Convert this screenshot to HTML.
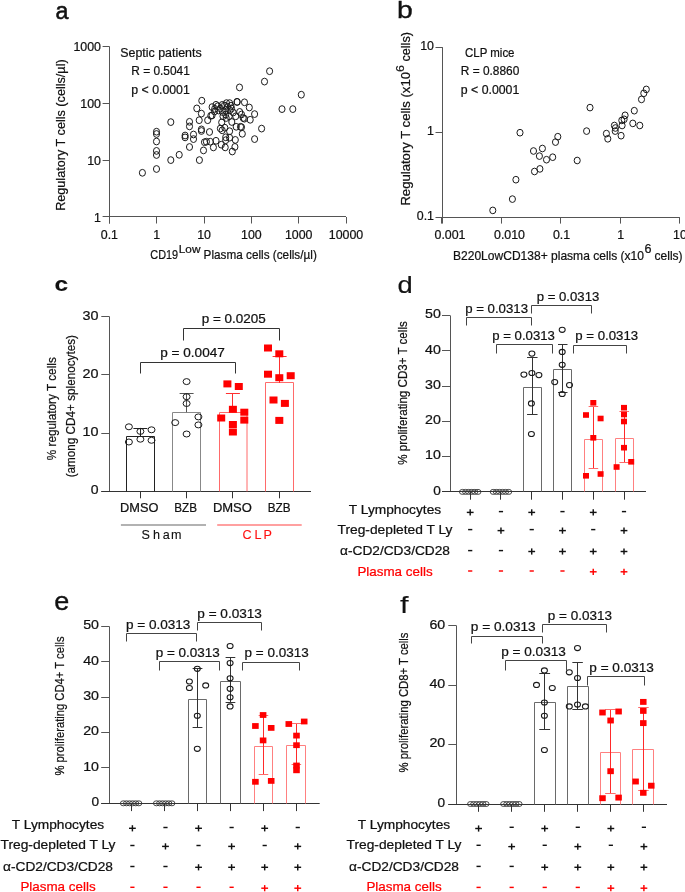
<!DOCTYPE html>
<html><head><meta charset="utf-8"><style>
html,body{margin:0;padding:0;background:#fff;}
svg{display:block;will-change:transform;}
text{font-family:"Liberation Sans", sans-serif;}
</style></head><body>
<svg width="685" height="892" viewBox="0 0 685 892">
<rect width="685" height="892" fill="#fff"/>
<text x="55.40" y="18.70" font-size="23" textLength="12.90" lengthAdjust="spacingAndGlyphs" fill="#111" stroke="#111" stroke-width="0.55">a</text>
<line x1="109.50" y1="46.30" x2="109.50" y2="223.50" stroke="#555" stroke-width="1"/>
<line x1="102.60" y1="46.50" x2="109.20" y2="46.50" stroke="#555" stroke-width="1"/>
<text x="101.00" y="50.80" font-size="12.4" text-anchor="end" fill="#111" stroke="#111" stroke-width="0.22">1000</text>
<line x1="102.60" y1="103.50" x2="109.20" y2="103.50" stroke="#555" stroke-width="1"/>
<text x="101.00" y="107.70" font-size="12.4" text-anchor="end" fill="#111" stroke="#111" stroke-width="0.22">100</text>
<line x1="102.60" y1="160.50" x2="109.20" y2="160.50" stroke="#555" stroke-width="1"/>
<text x="101.00" y="164.60" font-size="12.4" text-anchor="end" fill="#111" stroke="#111" stroke-width="0.22">10</text>
<line x1="102.60" y1="216.50" x2="109.20" y2="216.50" stroke="#555" stroke-width="1"/>
<text x="101.00" y="221.50" font-size="12.4" text-anchor="end" fill="#111" stroke="#111" stroke-width="0.22">1</text>
<line x1="109.20" y1="216.50" x2="346.00" y2="216.50" stroke="#555" stroke-width="1"/>
<line x1="109.50" y1="217.00" x2="109.50" y2="223.50" stroke="#555" stroke-width="1"/>
<text x="109.40" y="238.90" font-size="12.4" text-anchor="middle" fill="#111" stroke="#111" stroke-width="0.22">0.1</text>
<line x1="156.50" y1="217.00" x2="156.50" y2="223.50" stroke="#555" stroke-width="1"/>
<text x="156.72" y="238.90" font-size="12.4" text-anchor="middle" fill="#111" stroke="#111" stroke-width="0.22">1</text>
<line x1="204.50" y1="217.00" x2="204.50" y2="223.50" stroke="#555" stroke-width="1"/>
<text x="204.04" y="238.90" font-size="12.4" text-anchor="middle" fill="#111" stroke="#111" stroke-width="0.22">10</text>
<line x1="251.50" y1="217.00" x2="251.50" y2="223.50" stroke="#555" stroke-width="1"/>
<text x="251.36" y="238.90" font-size="12.4" text-anchor="middle" fill="#111" stroke="#111" stroke-width="0.22">100</text>
<line x1="298.50" y1="217.00" x2="298.50" y2="223.50" stroke="#555" stroke-width="1"/>
<text x="298.68" y="238.90" font-size="12.4" text-anchor="middle" fill="#111" stroke="#111" stroke-width="0.22">1000</text>
<line x1="346.50" y1="217.00" x2="346.50" y2="223.50" stroke="#555" stroke-width="1"/>
<text x="346.00" y="238.90" font-size="12.4" text-anchor="middle" fill="#111" stroke="#111" stroke-width="0.22">10000</text>
<text x="120.20" y="57.00" font-size="12.2" textLength="81.50" lengthAdjust="spacingAndGlyphs" fill="#111" stroke="#111" stroke-width="0.22">Septic patients</text>
<text x="131.30" y="75.40" font-size="12.2" textLength="58.50" lengthAdjust="spacingAndGlyphs" fill="#111" stroke="#111" stroke-width="0.22">R = 0.5041</text>
<text x="131.30" y="93.80" font-size="12.2" textLength="58.50" lengthAdjust="spacingAndGlyphs" fill="#111" stroke="#111" stroke-width="0.22">p &lt; 0.0001</text>
<text x="65.30" y="135.10" font-size="13" text-anchor="middle" textLength="151.50" lengthAdjust="spacingAndGlyphs" transform="rotate(-90 65.30 135.10)" fill="#111" stroke="#111" stroke-width="0.22">Regulatory T cells (cells/µl)</text>
<text x="150.30" y="259.20" font-size="12.8" textLength="27.80" lengthAdjust="spacingAndGlyphs" fill="#111" stroke="#111" stroke-width="0.22">CD19</text>
<text x="178.80" y="252.60" font-size="10.6" textLength="21.60" lengthAdjust="spacingAndGlyphs" fill="#111" stroke="#111" stroke-width="0.22">Low</text>
<text x="203.60" y="259.20" font-size="12.8" textLength="113.20" lengthAdjust="spacingAndGlyphs" fill="#111" stroke="#111" stroke-width="0.22">Plasma cells (cells/µl)</text>
<ellipse cx="142.40" cy="172.80" rx="3.05" ry="3.4" fill="none" stroke="#1a1a1a" stroke-width="1.0"/>
<ellipse cx="156.50" cy="169.00" rx="3.05" ry="3.4" fill="none" stroke="#1a1a1a" stroke-width="1.0"/>
<ellipse cx="170.80" cy="160.10" rx="3.05" ry="3.4" fill="none" stroke="#1a1a1a" stroke-width="1.0"/>
<ellipse cx="179.20" cy="154.80" rx="3.05" ry="3.4" fill="none" stroke="#1a1a1a" stroke-width="1.0"/>
<ellipse cx="156.50" cy="155.00" rx="3.05" ry="3.4" fill="none" stroke="#1a1a1a" stroke-width="1.0"/>
<ellipse cx="156.50" cy="150.90" rx="3.05" ry="3.4" fill="none" stroke="#1a1a1a" stroke-width="1.0"/>
<ellipse cx="156.50" cy="141.50" rx="3.05" ry="3.4" fill="none" stroke="#1a1a1a" stroke-width="1.0"/>
<ellipse cx="156.50" cy="134.00" rx="3.05" ry="3.4" fill="none" stroke="#1a1a1a" stroke-width="1.0"/>
<ellipse cx="156.50" cy="131.70" rx="3.05" ry="3.4" fill="none" stroke="#1a1a1a" stroke-width="1.0"/>
<ellipse cx="170.80" cy="122.10" rx="3.05" ry="3.4" fill="none" stroke="#1a1a1a" stroke-width="1.0"/>
<ellipse cx="185.10" cy="135.50" rx="3.05" ry="3.4" fill="none" stroke="#1a1a1a" stroke-width="1.0"/>
<ellipse cx="185.10" cy="137.40" rx="3.05" ry="3.4" fill="none" stroke="#1a1a1a" stroke-width="1.0"/>
<ellipse cx="189.50" cy="121.80" rx="3.05" ry="3.4" fill="none" stroke="#1a1a1a" stroke-width="1.0"/>
<ellipse cx="189.50" cy="126.40" rx="3.05" ry="3.4" fill="none" stroke="#1a1a1a" stroke-width="1.0"/>
<ellipse cx="189.50" cy="147.00" rx="3.05" ry="3.4" fill="none" stroke="#1a1a1a" stroke-width="1.0"/>
<ellipse cx="193.50" cy="134.50" rx="3.05" ry="3.4" fill="none" stroke="#1a1a1a" stroke-width="1.0"/>
<ellipse cx="193.50" cy="139.10" rx="3.05" ry="3.4" fill="none" stroke="#1a1a1a" stroke-width="1.0"/>
<ellipse cx="199.40" cy="160.10" rx="3.05" ry="3.4" fill="none" stroke="#1a1a1a" stroke-width="1.0"/>
<ellipse cx="199.20" cy="120.20" rx="3.05" ry="3.4" fill="none" stroke="#1a1a1a" stroke-width="1.0"/>
<ellipse cx="201.40" cy="129.40" rx="3.05" ry="3.4" fill="none" stroke="#1a1a1a" stroke-width="1.0"/>
<ellipse cx="201.40" cy="131.00" rx="3.05" ry="3.4" fill="none" stroke="#1a1a1a" stroke-width="1.0"/>
<ellipse cx="201.40" cy="113.60" rx="3.05" ry="3.4" fill="none" stroke="#1a1a1a" stroke-width="1.0"/>
<ellipse cx="203.50" cy="150.40" rx="3.05" ry="3.4" fill="none" stroke="#1a1a1a" stroke-width="1.0"/>
<ellipse cx="204.50" cy="142.20" rx="3.05" ry="3.4" fill="none" stroke="#1a1a1a" stroke-width="1.0"/>
<ellipse cx="201.80" cy="100.70" rx="3.05" ry="3.4" fill="none" stroke="#1a1a1a" stroke-width="1.0"/>
<ellipse cx="196.80" cy="108.40" rx="3.05" ry="3.4" fill="none" stroke="#1a1a1a" stroke-width="1.0"/>
<ellipse cx="207.70" cy="120.20" rx="3.05" ry="3.4" fill="none" stroke="#1a1a1a" stroke-width="1.0"/>
<ellipse cx="209.50" cy="132.00" rx="3.05" ry="3.4" fill="none" stroke="#1a1a1a" stroke-width="1.0"/>
<ellipse cx="212.10" cy="107.10" rx="3.05" ry="3.4" fill="none" stroke="#1a1a1a" stroke-width="1.0"/>
<ellipse cx="210.80" cy="115.80" rx="3.05" ry="3.4" fill="none" stroke="#1a1a1a" stroke-width="1.0"/>
<ellipse cx="212.10" cy="115.40" rx="3.05" ry="3.4" fill="none" stroke="#1a1a1a" stroke-width="1.0"/>
<ellipse cx="214.70" cy="108.80" rx="3.05" ry="3.4" fill="none" stroke="#1a1a1a" stroke-width="1.0"/>
<ellipse cx="217.80" cy="106.20" rx="3.05" ry="3.4" fill="none" stroke="#1a1a1a" stroke-width="1.0"/>
<ellipse cx="220.40" cy="108.40" rx="3.05" ry="3.4" fill="none" stroke="#1a1a1a" stroke-width="1.0"/>
<ellipse cx="222.20" cy="104.90" rx="3.05" ry="3.4" fill="none" stroke="#1a1a1a" stroke-width="1.0"/>
<ellipse cx="223.00" cy="116.30" rx="3.05" ry="3.4" fill="none" stroke="#1a1a1a" stroke-width="1.0"/>
<ellipse cx="226.50" cy="103.10" rx="3.05" ry="3.4" fill="none" stroke="#1a1a1a" stroke-width="1.0"/>
<ellipse cx="229.60" cy="103.10" rx="3.05" ry="3.4" fill="none" stroke="#1a1a1a" stroke-width="1.0"/>
<ellipse cx="230.90" cy="105.80" rx="3.05" ry="3.4" fill="none" stroke="#1a1a1a" stroke-width="1.0"/>
<ellipse cx="225.70" cy="110.10" rx="3.05" ry="3.4" fill="none" stroke="#1a1a1a" stroke-width="1.0"/>
<ellipse cx="230.00" cy="110.10" rx="3.05" ry="3.4" fill="none" stroke="#1a1a1a" stroke-width="1.0"/>
<ellipse cx="225.70" cy="114.50" rx="3.05" ry="3.4" fill="none" stroke="#1a1a1a" stroke-width="1.0"/>
<ellipse cx="221.70" cy="122.40" rx="3.05" ry="3.4" fill="none" stroke="#1a1a1a" stroke-width="1.0"/>
<ellipse cx="220.40" cy="128.50" rx="3.05" ry="3.4" fill="none" stroke="#1a1a1a" stroke-width="1.0"/>
<ellipse cx="222.20" cy="130.30" rx="3.05" ry="3.4" fill="none" stroke="#1a1a1a" stroke-width="1.0"/>
<ellipse cx="224.80" cy="127.70" rx="3.05" ry="3.4" fill="none" stroke="#1a1a1a" stroke-width="1.0"/>
<ellipse cx="229.60" cy="131.20" rx="3.05" ry="3.4" fill="none" stroke="#1a1a1a" stroke-width="1.0"/>
<ellipse cx="231.80" cy="122.00" rx="3.05" ry="3.4" fill="none" stroke="#1a1a1a" stroke-width="1.0"/>
<ellipse cx="235.70" cy="116.30" rx="3.05" ry="3.4" fill="none" stroke="#1a1a1a" stroke-width="1.0"/>
<ellipse cx="237.00" cy="101.80" rx="3.05" ry="3.4" fill="none" stroke="#1a1a1a" stroke-width="1.0"/>
<ellipse cx="244.50" cy="102.30" rx="3.05" ry="3.4" fill="none" stroke="#1a1a1a" stroke-width="1.0"/>
<ellipse cx="249.30" cy="107.50" rx="3.05" ry="3.4" fill="none" stroke="#1a1a1a" stroke-width="1.0"/>
<ellipse cx="239.70" cy="111.90" rx="3.05" ry="3.4" fill="none" stroke="#1a1a1a" stroke-width="1.0"/>
<ellipse cx="243.20" cy="118.00" rx="3.05" ry="3.4" fill="none" stroke="#1a1a1a" stroke-width="1.0"/>
<ellipse cx="250.20" cy="119.80" rx="3.05" ry="3.4" fill="none" stroke="#1a1a1a" stroke-width="1.0"/>
<ellipse cx="236.20" cy="126.80" rx="3.05" ry="3.4" fill="none" stroke="#1a1a1a" stroke-width="1.0"/>
<ellipse cx="240.50" cy="126.80" rx="3.05" ry="3.4" fill="none" stroke="#1a1a1a" stroke-width="1.0"/>
<ellipse cx="242.30" cy="133.80" rx="3.05" ry="3.4" fill="none" stroke="#1a1a1a" stroke-width="1.0"/>
<ellipse cx="225.70" cy="137.30" rx="3.05" ry="3.4" fill="none" stroke="#1a1a1a" stroke-width="1.0"/>
<ellipse cx="229.60" cy="137.70" rx="3.05" ry="3.4" fill="none" stroke="#1a1a1a" stroke-width="1.0"/>
<ellipse cx="235.30" cy="139.90" rx="3.05" ry="3.4" fill="none" stroke="#1a1a1a" stroke-width="1.0"/>
<ellipse cx="206.40" cy="141.70" rx="3.05" ry="3.4" fill="none" stroke="#1a1a1a" stroke-width="1.0"/>
<ellipse cx="210.30" cy="141.70" rx="3.05" ry="3.4" fill="none" stroke="#1a1a1a" stroke-width="1.0"/>
<ellipse cx="216.00" cy="140.80" rx="3.05" ry="3.4" fill="none" stroke="#1a1a1a" stroke-width="1.0"/>
<ellipse cx="221.30" cy="144.70" rx="3.05" ry="3.4" fill="none" stroke="#1a1a1a" stroke-width="1.0"/>
<ellipse cx="234.90" cy="146.90" rx="3.05" ry="3.4" fill="none" stroke="#1a1a1a" stroke-width="1.0"/>
<ellipse cx="225.20" cy="147.40" rx="3.05" ry="3.4" fill="none" stroke="#1a1a1a" stroke-width="1.0"/>
<ellipse cx="254.60" cy="139.10" rx="3.05" ry="3.4" fill="none" stroke="#1a1a1a" stroke-width="1.0"/>
<ellipse cx="254.60" cy="114.10" rx="3.05" ry="3.4" fill="none" stroke="#1a1a1a" stroke-width="1.0"/>
<ellipse cx="239.50" cy="87.40" rx="3.05" ry="3.4" fill="none" stroke="#1a1a1a" stroke-width="1.0"/>
<ellipse cx="213.40" cy="147.40" rx="3.05" ry="3.4" fill="none" stroke="#1a1a1a" stroke-width="1.0"/>
<ellipse cx="225.70" cy="140.20" rx="3.05" ry="3.4" fill="none" stroke="#1a1a1a" stroke-width="1.0"/>
<ellipse cx="232.30" cy="151.50" rx="3.05" ry="3.4" fill="none" stroke="#1a1a1a" stroke-width="1.0"/>
<ellipse cx="261.60" cy="128.60" rx="3.05" ry="3.4" fill="none" stroke="#1a1a1a" stroke-width="1.0"/>
<ellipse cx="269.60" cy="71.20" rx="3.05" ry="3.4" fill="none" stroke="#1a1a1a" stroke-width="1.0"/>
<ellipse cx="264.50" cy="81.60" rx="3.05" ry="3.4" fill="none" stroke="#1a1a1a" stroke-width="1.0"/>
<ellipse cx="301.30" cy="94.70" rx="3.05" ry="3.4" fill="none" stroke="#1a1a1a" stroke-width="1.0"/>
<ellipse cx="282.00" cy="109.10" rx="3.05" ry="3.4" fill="none" stroke="#1a1a1a" stroke-width="1.0"/>
<ellipse cx="292.80" cy="109.10" rx="3.05" ry="3.4" fill="none" stroke="#1a1a1a" stroke-width="1.0"/>
<ellipse cx="244.40" cy="118.70" rx="3.05" ry="3.4" fill="none" stroke="#1a1a1a" stroke-width="1.0"/>
<ellipse cx="241.50" cy="127.20" rx="3.05" ry="3.4" fill="none" stroke="#1a1a1a" stroke-width="1.0"/>
<ellipse cx="237.20" cy="102.00" rx="3.05" ry="3.4" fill="none" stroke="#1a1a1a" stroke-width="1.0"/>
<ellipse cx="214.50" cy="111.50" rx="3.05" ry="3.4" fill="none" stroke="#1a1a1a" stroke-width="1.0"/>
<ellipse cx="218.50" cy="110.50" rx="3.05" ry="3.4" fill="none" stroke="#1a1a1a" stroke-width="1.0"/>
<ellipse cx="222.50" cy="112.00" rx="3.05" ry="3.4" fill="none" stroke="#1a1a1a" stroke-width="1.0"/>
<ellipse cx="227.50" cy="106.80" rx="3.05" ry="3.4" fill="none" stroke="#1a1a1a" stroke-width="1.0"/>
<ellipse cx="231.50" cy="108.50" rx="3.05" ry="3.4" fill="none" stroke="#1a1a1a" stroke-width="1.0"/>
<ellipse cx="233.20" cy="112.50" rx="3.05" ry="3.4" fill="none" stroke="#1a1a1a" stroke-width="1.0"/>
<ellipse cx="226.20" cy="118.00" rx="3.05" ry="3.4" fill="none" stroke="#1a1a1a" stroke-width="1.0"/>
<ellipse cx="229.20" cy="116.20" rx="3.05" ry="3.4" fill="none" stroke="#1a1a1a" stroke-width="1.0"/>
<ellipse cx="216.00" cy="104.80" rx="3.05" ry="3.4" fill="none" stroke="#1a1a1a" stroke-width="1.0"/>
<ellipse cx="241.50" cy="114.50" rx="3.05" ry="3.4" fill="none" stroke="#1a1a1a" stroke-width="1.0"/>
<ellipse cx="224.50" cy="105.50" rx="3.05" ry="3.4" fill="none" stroke="#1a1a1a" stroke-width="1.0"/>
<text x="396.90" y="17.80" font-size="24.5" textLength="15.80" lengthAdjust="spacingAndGlyphs" fill="#111" stroke="#111" stroke-width="0.35">b</text>
<line x1="442.50" y1="47.10" x2="442.50" y2="223.60" stroke="#555" stroke-width="1"/>
<line x1="435.50" y1="47.50" x2="442.00" y2="47.50" stroke="#555" stroke-width="1"/>
<text x="434.00" y="49.90" font-size="12.4" text-anchor="end" fill="#111" stroke="#111" stroke-width="0.22">10</text>
<line x1="435.50" y1="132.50" x2="442.00" y2="132.50" stroke="#555" stroke-width="1"/>
<text x="434.00" y="134.90" font-size="12.4" text-anchor="end" fill="#111" stroke="#111" stroke-width="0.22">1</text>
<line x1="435.50" y1="217.50" x2="442.00" y2="217.50" stroke="#555" stroke-width="1"/>
<text x="434.00" y="219.90" font-size="12.4" text-anchor="end" fill="#111" stroke="#111" stroke-width="0.22">0.1</text>
<line x1="442.00" y1="217.50" x2="679.40" y2="217.50" stroke="#555" stroke-width="1"/>
<line x1="441.50" y1="217.10" x2="441.50" y2="223.60" stroke="#555" stroke-width="1"/>
<text x="450.00" y="239.00" font-size="12.4" text-anchor="middle" fill="#111" stroke="#111" stroke-width="0.22">0.001</text>
<line x1="501.50" y1="217.10" x2="501.50" y2="223.60" stroke="#555" stroke-width="1"/>
<text x="509.50" y="239.00" font-size="12.4" text-anchor="middle" fill="#111" stroke="#111" stroke-width="0.22">0.010</text>
<line x1="560.50" y1="217.10" x2="560.50" y2="223.60" stroke="#555" stroke-width="1"/>
<text x="561.60" y="239.00" font-size="12.4" text-anchor="middle" fill="#111" stroke="#111" stroke-width="0.22">0.1</text>
<line x1="620.50" y1="217.10" x2="620.50" y2="223.60" stroke="#555" stroke-width="1"/>
<text x="620.60" y="239.00" font-size="12.4" text-anchor="middle" fill="#111" stroke="#111" stroke-width="0.22">1</text>
<line x1="679.50" y1="217.10" x2="679.50" y2="223.60" stroke="#555" stroke-width="1"/>
<text x="680.00" y="239.00" font-size="12.4" text-anchor="middle" fill="#111" stroke="#111" stroke-width="0.22">10</text>
<text x="465.00" y="56.80" font-size="12.2" textLength="49.50" lengthAdjust="spacingAndGlyphs" fill="#111" stroke="#111" stroke-width="0.22">CLP mice</text>
<text x="460.80" y="75.20" font-size="12.2" textLength="58.50" lengthAdjust="spacingAndGlyphs" fill="#111" stroke="#111" stroke-width="0.22">R = 0.8860</text>
<text x="460.80" y="93.50" font-size="12.2" textLength="58.50" lengthAdjust="spacingAndGlyphs" fill="#111" stroke="#111" stroke-width="0.22">p &lt; 0.0001</text>
<g transform="translate(409.8,205.6) rotate(-90)">
<text x="0.00" y="0.00" font-size="12.2" textLength="133.60" lengthAdjust="spacingAndGlyphs" fill="#111" stroke="#111" stroke-width="0.22">Regulatory T cells (x10</text>
<text x="133.60" y="-5.40" font-size="11.6" textLength="6.90" lengthAdjust="spacingAndGlyphs" fill="#111" stroke="#111" stroke-width="0.22">6</text>
<text x="144.00" y="0.00" font-size="12.2" textLength="29.60" lengthAdjust="spacingAndGlyphs" fill="#111" stroke="#111" stroke-width="0.22">cells)</text>
</g>
<text x="453.00" y="259.90" font-size="12.6" textLength="191.00" lengthAdjust="spacingAndGlyphs" fill="#111" stroke="#111" stroke-width="0.22">B220LowCD138+ plasma cells (x10</text>
<text x="644.60" y="253.40" font-size="12.2" textLength="7.00" lengthAdjust="spacingAndGlyphs" fill="#111" stroke="#111" stroke-width="0.22">6</text>
<text x="654.60" y="259.90" font-size="12.6" textLength="28.00" lengthAdjust="spacingAndGlyphs" fill="#111" stroke="#111" stroke-width="0.22">cells)</text>
<ellipse cx="492.80" cy="210.40" rx="3.05" ry="3.35" fill="none" stroke="#1a1a1a" stroke-width="1.0"/>
<ellipse cx="512.40" cy="199.10" rx="3.05" ry="3.35" fill="none" stroke="#1a1a1a" stroke-width="1.0"/>
<ellipse cx="515.90" cy="179.70" rx="3.05" ry="3.35" fill="none" stroke="#1a1a1a" stroke-width="1.0"/>
<ellipse cx="520.00" cy="132.70" rx="3.05" ry="3.35" fill="none" stroke="#1a1a1a" stroke-width="1.0"/>
<ellipse cx="533.50" cy="151.00" rx="3.05" ry="3.35" fill="none" stroke="#1a1a1a" stroke-width="1.0"/>
<ellipse cx="542.40" cy="148.50" rx="3.05" ry="3.35" fill="none" stroke="#1a1a1a" stroke-width="1.0"/>
<ellipse cx="539.40" cy="156.10" rx="3.05" ry="3.35" fill="none" stroke="#1a1a1a" stroke-width="1.0"/>
<ellipse cx="546.50" cy="159.70" rx="3.05" ry="3.35" fill="none" stroke="#1a1a1a" stroke-width="1.0"/>
<ellipse cx="552.70" cy="157.20" rx="3.05" ry="3.35" fill="none" stroke="#1a1a1a" stroke-width="1.0"/>
<ellipse cx="534.50" cy="171.50" rx="3.05" ry="3.35" fill="none" stroke="#1a1a1a" stroke-width="1.0"/>
<ellipse cx="539.90" cy="168.90" rx="3.05" ry="3.35" fill="none" stroke="#1a1a1a" stroke-width="1.0"/>
<ellipse cx="555.50" cy="142.10" rx="3.05" ry="3.35" fill="none" stroke="#1a1a1a" stroke-width="1.0"/>
<ellipse cx="557.80" cy="136.70" rx="3.05" ry="3.35" fill="none" stroke="#1a1a1a" stroke-width="1.0"/>
<ellipse cx="577.20" cy="160.50" rx="3.05" ry="3.35" fill="none" stroke="#1a1a1a" stroke-width="1.0"/>
<ellipse cx="586.60" cy="131.10" rx="3.05" ry="3.35" fill="none" stroke="#1a1a1a" stroke-width="1.0"/>
<ellipse cx="590.00" cy="107.60" rx="3.05" ry="3.35" fill="none" stroke="#1a1a1a" stroke-width="1.0"/>
<ellipse cx="646.30" cy="89.40" rx="3.05" ry="3.35" fill="none" stroke="#1a1a1a" stroke-width="1.0"/>
<ellipse cx="643.80" cy="93.30" rx="3.05" ry="3.35" fill="none" stroke="#1a1a1a" stroke-width="1.0"/>
<ellipse cx="641.50" cy="99.40" rx="3.05" ry="3.35" fill="none" stroke="#1a1a1a" stroke-width="1.0"/>
<ellipse cx="634.30" cy="110.70" rx="3.05" ry="3.35" fill="none" stroke="#1a1a1a" stroke-width="1.0"/>
<ellipse cx="625.10" cy="115.30" rx="3.05" ry="3.35" fill="none" stroke="#1a1a1a" stroke-width="1.0"/>
<ellipse cx="624.10" cy="119.30" rx="3.05" ry="3.35" fill="none" stroke="#1a1a1a" stroke-width="1.0"/>
<ellipse cx="621.80" cy="120.40" rx="3.05" ry="3.35" fill="none" stroke="#1a1a1a" stroke-width="1.0"/>
<ellipse cx="622.10" cy="125.50" rx="3.05" ry="3.35" fill="none" stroke="#1a1a1a" stroke-width="1.0"/>
<ellipse cx="632.80" cy="123.40" rx="3.05" ry="3.35" fill="none" stroke="#1a1a1a" stroke-width="1.0"/>
<ellipse cx="639.80" cy="125.50" rx="3.05" ry="3.35" fill="none" stroke="#1a1a1a" stroke-width="1.0"/>
<ellipse cx="614.40" cy="125.50" rx="3.05" ry="3.35" fill="none" stroke="#1a1a1a" stroke-width="1.0"/>
<ellipse cx="615.40" cy="128.00" rx="3.05" ry="3.35" fill="none" stroke="#1a1a1a" stroke-width="1.0"/>
<ellipse cx="615.20" cy="131.10" rx="3.05" ry="3.35" fill="none" stroke="#1a1a1a" stroke-width="1.0"/>
<ellipse cx="621.10" cy="135.70" rx="3.05" ry="3.35" fill="none" stroke="#1a1a1a" stroke-width="1.0"/>
<ellipse cx="606.40" cy="133.60" rx="3.05" ry="3.35" fill="none" stroke="#1a1a1a" stroke-width="1.0"/>
<ellipse cx="607.80" cy="138.80" rx="3.05" ry="3.35" fill="none" stroke="#1a1a1a" stroke-width="1.0"/>
<text x="54.60" y="290.80" font-size="21" textLength="13.60" lengthAdjust="spacingAndGlyphs" font-weight="bold" fill="#111" stroke="#111" stroke-width="0.1">c</text>
<line x1="109.50" y1="316.59" x2="109.50" y2="491.40" stroke="#555" stroke-width="1"/>
<line x1="101.30" y1="491.50" x2="109.50" y2="491.50" stroke="#555" stroke-width="1"/>
<text x="98.60" y="494.40" font-size="12.4" text-anchor="end" textLength="7.80" lengthAdjust="spacingAndGlyphs" fill="#111" stroke="#111" stroke-width="0.22">0</text>
<line x1="101.30" y1="433.50" x2="109.50" y2="433.50" stroke="#555" stroke-width="1"/>
<text x="98.60" y="436.13" font-size="12.4" text-anchor="end" textLength="16.00" lengthAdjust="spacingAndGlyphs" fill="#111" stroke="#111" stroke-width="0.22">10</text>
<line x1="101.30" y1="374.50" x2="109.50" y2="374.50" stroke="#555" stroke-width="1"/>
<text x="98.60" y="377.86" font-size="12.4" text-anchor="end" textLength="16.00" lengthAdjust="spacingAndGlyphs" fill="#111" stroke="#111" stroke-width="0.22">20</text>
<line x1="101.30" y1="316.50" x2="109.50" y2="316.50" stroke="#555" stroke-width="1"/>
<text x="98.60" y="319.59" font-size="12.4" text-anchor="end" textLength="16.00" lengthAdjust="spacingAndGlyphs" fill="#111" stroke="#111" stroke-width="0.22">30</text>
<line x1="101.30" y1="491.50" x2="311.00" y2="491.50" stroke="#333" stroke-width="1"/>
<line x1="140.50" y1="491.40" x2="140.50" y2="498.30" stroke="#333" stroke-width="1"/>
<line x1="186.50" y1="491.40" x2="186.50" y2="498.30" stroke="#333" stroke-width="1"/>
<line x1="232.50" y1="491.40" x2="232.50" y2="498.30" stroke="#333" stroke-width="1"/>
<line x1="279.50" y1="491.40" x2="279.50" y2="498.30" stroke="#333" stroke-width="1"/>
<text x="139.20" y="511.90" font-size="12.4" text-anchor="middle" textLength="38.40" lengthAdjust="spacingAndGlyphs" fill="#111" stroke="#111" stroke-width="0.22">DMSO</text>
<text x="185.60" y="511.90" font-size="12.4" text-anchor="middle" textLength="22.80" lengthAdjust="spacingAndGlyphs" fill="#111" stroke="#111" stroke-width="0.22">BZB</text>
<text x="232.40" y="511.90" font-size="12.4" text-anchor="middle" textLength="39.00" lengthAdjust="spacingAndGlyphs" fill="#111" stroke="#111" stroke-width="0.22">DMSO</text>
<text x="279.20" y="511.90" font-size="12.4" text-anchor="middle" textLength="22.80" lengthAdjust="spacingAndGlyphs" fill="#111" stroke="#111" stroke-width="0.22">BZB</text>
<line x1="120.90" y1="525.00" x2="206.00" y2="525.00" stroke="#999" stroke-width="1.6"/>
<line x1="217.20" y1="525.00" x2="301.70" y2="525.00" stroke="#ff8080" stroke-width="1.6"/>
<text x="141.6 152.9 162.7 170.9" y="539.2" font-size="12.6" fill="#111" stroke="#111" stroke-width="0.12">Sham</text>
<text x="242.6 254.6 263.4" y="539.2" font-size="12.6" fill="#ff1010" stroke="#ff1010" stroke-width="0.12">CLP</text>
<text x="56.00" y="408.70" font-size="12.2" text-anchor="middle" textLength="103.00" lengthAdjust="spacingAndGlyphs" transform="rotate(-90 56.00 408.70)" fill="#111" stroke="#111" stroke-width="0.22">% regulatory T cells</text>
<text x="74.80" y="406.20" font-size="12.2" text-anchor="middle" textLength="142.30" lengthAdjust="spacingAndGlyphs" transform="rotate(-90 74.80 406.20)" fill="#111" stroke="#111" stroke-width="0.22">(among CD4+ splenocytes)</text>
<polyline points="126.50,491.50 126.50,436.50 154.50,436.50 154.50,491.50" fill="none" stroke="#222" stroke-width="1"/>
<polyline points="172.50,491.50 172.50,412.50 200.50,412.50 200.50,491.50" fill="none" stroke="#888" stroke-width="1"/>
<polyline points="219.50,491.40 219.50,412.50 247.00,412.50 247.00,491.40" fill="none" stroke="#ff6a6a" stroke-width="1"/>
<polyline points="265.50,491.50 265.50,382.50 293.50,382.50 293.50,491.50" fill="none" stroke="#ff6a6a" stroke-width="1"/>
<line x1="140.50" y1="428.40" x2="140.50" y2="436.40" stroke="#222" stroke-width="1"/>
<line x1="133.40" y1="428.50" x2="147.40" y2="428.50" stroke="#222" stroke-width="1"/>
<line x1="186.50" y1="393.30" x2="186.50" y2="412.20" stroke="#555" stroke-width="1"/>
<line x1="179.60" y1="393.50" x2="193.60" y2="393.50" stroke="#555" stroke-width="1"/>
<line x1="232.50" y1="393.80" x2="232.50" y2="412.20" stroke="#ff3030" stroke-width="1"/>
<line x1="225.90" y1="393.50" x2="239.90" y2="393.50" stroke="#ff3030" stroke-width="1"/>
<line x1="279.50" y1="356.70" x2="279.50" y2="383.00" stroke="#ff3030" stroke-width="1"/>
<line x1="272.60" y1="356.50" x2="286.60" y2="356.50" stroke="#ff3030" stroke-width="1"/>
<ellipse cx="128.90" cy="426.80" rx="3.5" ry="3.0" fill="none" stroke="#1a1a1a" stroke-width="1.0"/>
<ellipse cx="140.40" cy="431.40" rx="3.5" ry="3.0" fill="none" stroke="#1a1a1a" stroke-width="1.0"/>
<ellipse cx="151.50" cy="429.80" rx="3.5" ry="3.0" fill="none" stroke="#1a1a1a" stroke-width="1.0"/>
<ellipse cx="128.90" cy="442.00" rx="3.5" ry="3.0" fill="none" stroke="#1a1a1a" stroke-width="1.0"/>
<ellipse cx="140.40" cy="439.20" rx="3.5" ry="3.0" fill="none" stroke="#1a1a1a" stroke-width="1.0"/>
<ellipse cx="151.50" cy="440.30" rx="3.5" ry="3.0" fill="none" stroke="#1a1a1a" stroke-width="1.0"/>
<ellipse cx="186.60" cy="381.60" rx="3.5" ry="3.0" fill="none" stroke="#1a1a1a" stroke-width="1.0"/>
<ellipse cx="186.60" cy="396.70" rx="3.5" ry="3.0" fill="none" stroke="#1a1a1a" stroke-width="1.0"/>
<ellipse cx="186.60" cy="403.50" rx="3.5" ry="3.0" fill="none" stroke="#1a1a1a" stroke-width="1.0"/>
<ellipse cx="175.20" cy="422.60" rx="3.5" ry="3.0" fill="none" stroke="#1a1a1a" stroke-width="1.0"/>
<ellipse cx="198.40" cy="416.90" rx="3.5" ry="3.0" fill="none" stroke="#1a1a1a" stroke-width="1.0"/>
<ellipse cx="198.40" cy="424.90" rx="3.5" ry="3.0" fill="none" stroke="#1a1a1a" stroke-width="1.0"/>
<ellipse cx="186.60" cy="434.00" rx="3.5" ry="3.0" fill="none" stroke="#1a1a1a" stroke-width="1.0"/>
<rect x="223.40" y="380.40" width="8.0" height="7.0" fill="#f00"/>
<rect x="234.80" y="383.00" width="8.0" height="7.0" fill="#f00"/>
<rect x="228.90" y="405.80" width="8.0" height="7.0" fill="#f00"/>
<rect x="217.20" y="414.50" width="8.0" height="7.0" fill="#f00"/>
<rect x="240.30" y="408.70" width="8.0" height="7.0" fill="#f00"/>
<rect x="240.30" y="416.60" width="8.0" height="7.0" fill="#f00"/>
<rect x="228.90" y="421.00" width="8.0" height="7.0" fill="#f00"/>
<rect x="228.90" y="428.50" width="8.0" height="7.0" fill="#f00"/>
<rect x="264.00" y="344.50" width="8.0" height="7.0" fill="#f00"/>
<rect x="275.30" y="350.30" width="8.0" height="7.0" fill="#f00"/>
<rect x="264.00" y="370.70" width="8.0" height="7.0" fill="#f00"/>
<rect x="275.30" y="374.20" width="8.0" height="7.0" fill="#f00"/>
<rect x="286.70" y="372.20" width="8.0" height="7.0" fill="#f00"/>
<rect x="269.50" y="396.50" width="8.0" height="7.0" fill="#f00"/>
<rect x="280.90" y="399.90" width="8.0" height="7.0" fill="#f00"/>
<rect x="275.30" y="416.90" width="8.0" height="7.0" fill="#f00"/>
<polyline points="140.50,373.50 140.50,362.50 235.50,362.50 235.50,373.50" fill="none" stroke="#333" stroke-width="1"/>
<text x="160.30" y="356.70" font-size="12.2" textLength="64.50" lengthAdjust="spacingAndGlyphs" fill="#111" stroke="#111" stroke-width="0.22">p = 0.0047</text>
<polyline points="183.50,340.50 183.50,328.50 279.50,328.50 279.50,340.50" fill="none" stroke="#333" stroke-width="1"/>
<text x="201.80" y="323.10" font-size="12.2" textLength="64.00" lengthAdjust="spacingAndGlyphs" fill="#111" stroke="#111" stroke-width="0.22">p = 0.0205</text>
<text x="397.60" y="292.70" font-size="24" textLength="15.20" lengthAdjust="spacingAndGlyphs" fill="#111" stroke="#111" stroke-width="0.2">d</text>
<line x1="450.50" y1="315.60" x2="450.50" y2="491.90" stroke="#555" stroke-width="1"/>
<line x1="442.00" y1="491.50" x2="450.30" y2="491.50" stroke="#555" stroke-width="1"/>
<text x="440.80" y="494.70" font-size="12.4" text-anchor="end" textLength="7.60" lengthAdjust="spacingAndGlyphs" fill="#111" stroke="#111" stroke-width="0.22">0</text>
<line x1="442.00" y1="456.50" x2="450.30" y2="456.50" stroke="#555" stroke-width="1"/>
<text x="440.80" y="459.44" font-size="12.4" text-anchor="end" textLength="15.80" lengthAdjust="spacingAndGlyphs" fill="#111" stroke="#111" stroke-width="0.22">10</text>
<line x1="442.00" y1="421.50" x2="450.30" y2="421.50" stroke="#555" stroke-width="1"/>
<text x="440.80" y="424.18" font-size="12.4" text-anchor="end" textLength="15.80" lengthAdjust="spacingAndGlyphs" fill="#111" stroke="#111" stroke-width="0.22">20</text>
<line x1="442.00" y1="386.50" x2="450.30" y2="386.50" stroke="#555" stroke-width="1"/>
<text x="440.80" y="388.92" font-size="12.4" text-anchor="end" textLength="15.80" lengthAdjust="spacingAndGlyphs" fill="#111" stroke="#111" stroke-width="0.22">30</text>
<line x1="442.00" y1="350.50" x2="450.30" y2="350.50" stroke="#555" stroke-width="1"/>
<text x="440.80" y="353.66" font-size="12.4" text-anchor="end" textLength="15.80" lengthAdjust="spacingAndGlyphs" fill="#111" stroke="#111" stroke-width="0.22">40</text>
<line x1="442.00" y1="315.50" x2="450.30" y2="315.50" stroke="#555" stroke-width="1"/>
<text x="440.80" y="318.40" font-size="12.4" text-anchor="end" textLength="15.80" lengthAdjust="spacingAndGlyphs" fill="#111" stroke="#111" stroke-width="0.22">50</text>
<line x1="442.00" y1="491.50" x2="646.00" y2="491.50" stroke="#333" stroke-width="1"/>
<line x1="470.50" y1="491.90" x2="470.50" y2="499.70" stroke="#333" stroke-width="1"/>
<line x1="500.50" y1="491.90" x2="500.50" y2="499.70" stroke="#333" stroke-width="1"/>
<line x1="531.50" y1="491.90" x2="531.50" y2="499.70" stroke="#333" stroke-width="1"/>
<line x1="562.50" y1="491.90" x2="562.50" y2="499.70" stroke="#333" stroke-width="1"/>
<line x1="593.50" y1="491.90" x2="593.50" y2="499.70" stroke="#333" stroke-width="1"/>
<line x1="624.50" y1="491.90" x2="624.50" y2="499.70" stroke="#333" stroke-width="1"/>
<ellipse cx="462.45" cy="491.90" rx="3.0" ry="2.5" fill="none" stroke="#333" stroke-width="0.9"/>
<ellipse cx="465.55" cy="491.90" rx="3.0" ry="2.5" fill="none" stroke="#333" stroke-width="0.9"/>
<ellipse cx="468.65" cy="491.90" rx="3.0" ry="2.5" fill="none" stroke="#333" stroke-width="0.9"/>
<ellipse cx="471.75" cy="491.90" rx="3.0" ry="2.5" fill="none" stroke="#333" stroke-width="0.9"/>
<ellipse cx="474.85" cy="491.90" rx="3.0" ry="2.5" fill="none" stroke="#333" stroke-width="0.9"/>
<ellipse cx="477.95" cy="491.90" rx="3.0" ry="2.5" fill="none" stroke="#333" stroke-width="0.9"/>
<ellipse cx="493.21" cy="491.90" rx="3.0" ry="2.5" fill="none" stroke="#333" stroke-width="0.9"/>
<ellipse cx="496.31" cy="491.90" rx="3.0" ry="2.5" fill="none" stroke="#333" stroke-width="0.9"/>
<ellipse cx="499.41" cy="491.90" rx="3.0" ry="2.5" fill="none" stroke="#333" stroke-width="0.9"/>
<ellipse cx="502.51" cy="491.90" rx="3.0" ry="2.5" fill="none" stroke="#333" stroke-width="0.9"/>
<ellipse cx="505.61" cy="491.90" rx="3.0" ry="2.5" fill="none" stroke="#333" stroke-width="0.9"/>
<ellipse cx="508.71" cy="491.90" rx="3.0" ry="2.5" fill="none" stroke="#333" stroke-width="0.9"/>
<polyline points="523.50,491.50 523.50,387.50 541.50,387.50 541.50,491.50" fill="none" stroke="#6a6a6a" stroke-width="1"/>
<line x1="532.50" y1="357.10" x2="532.50" y2="415.00" stroke="#333" stroke-width="1"/>
<line x1="527.05" y1="357.50" x2="537.55" y2="357.50" stroke="#333" stroke-width="1"/>
<line x1="527.05" y1="414.50" x2="537.55" y2="414.50" stroke="#333" stroke-width="1"/>
<polyline points="553.50,491.50 553.50,369.50 571.50,369.50 571.50,491.50" fill="none" stroke="#6a6a6a" stroke-width="1"/>
<line x1="562.50" y1="344.20" x2="562.50" y2="392.60" stroke="#333" stroke-width="1"/>
<line x1="558.00" y1="344.50" x2="567.50" y2="344.50" stroke="#333" stroke-width="1"/>
<line x1="558.00" y1="392.50" x2="567.50" y2="392.50" stroke="#333" stroke-width="1"/>
<polyline points="584.50,491.50 584.50,439.50 602.50,439.50 602.50,491.50" fill="none" stroke="#ff8080" stroke-width="1"/>
<line x1="593.50" y1="406.30" x2="593.50" y2="468.20" stroke="#ff2a2a" stroke-width="1"/>
<line x1="588.60" y1="406.50" x2="598.20" y2="406.50" stroke="#ff6a6a" stroke-width="1"/>
<line x1="588.60" y1="468.50" x2="598.20" y2="468.50" stroke="#ff6a6a" stroke-width="1"/>
<polyline points="615.50,491.50 615.50,438.50 633.50,438.50 633.50,491.50" fill="none" stroke="#ff8080" stroke-width="1"/>
<line x1="624.50" y1="411.20" x2="624.50" y2="462.30" stroke="#ff2a2a" stroke-width="1"/>
<line x1="619.45" y1="411.50" x2="629.05" y2="411.50" stroke="#ff6a6a" stroke-width="1"/>
<line x1="619.45" y1="462.50" x2="629.05" y2="462.50" stroke="#ff6a6a" stroke-width="1"/>
<ellipse cx="531.90" cy="353.60" rx="3.0" ry="2.55" fill="none" stroke="#1a1a1a" stroke-width="1.05"/>
<ellipse cx="523.90" cy="374.60" rx="3.0" ry="2.55" fill="none" stroke="#1a1a1a" stroke-width="1.05"/>
<ellipse cx="531.90" cy="373.00" rx="3.0" ry="2.55" fill="none" stroke="#1a1a1a" stroke-width="1.05"/>
<ellipse cx="538.90" cy="375.10" rx="3.0" ry="2.55" fill="none" stroke="#1a1a1a" stroke-width="1.05"/>
<ellipse cx="531.40" cy="403.40" rx="3.0" ry="2.55" fill="none" stroke="#1a1a1a" stroke-width="1.05"/>
<ellipse cx="531.40" cy="434.00" rx="3.0" ry="2.55" fill="none" stroke="#1a1a1a" stroke-width="1.05"/>
<ellipse cx="562.20" cy="329.80" rx="3.0" ry="2.55" fill="none" stroke="#1a1a1a" stroke-width="1.05"/>
<ellipse cx="562.20" cy="351.90" rx="3.0" ry="2.55" fill="none" stroke="#1a1a1a" stroke-width="1.05"/>
<ellipse cx="562.20" cy="364.80" rx="3.0" ry="2.55" fill="none" stroke="#1a1a1a" stroke-width="1.05"/>
<ellipse cx="554.70" cy="382.10" rx="3.0" ry="2.55" fill="none" stroke="#1a1a1a" stroke-width="1.05"/>
<ellipse cx="569.50" cy="385.10" rx="3.0" ry="2.55" fill="none" stroke="#1a1a1a" stroke-width="1.05"/>
<ellipse cx="562.20" cy="394.00" rx="3.0" ry="2.55" fill="none" stroke="#1a1a1a" stroke-width="1.05"/>
<rect x="590.30" y="400.00" width="6.0" height="5.6" fill="#f00"/>
<rect x="583.00" y="412.20" width="6.0" height="5.6" fill="#f00"/>
<rect x="597.60" y="415.70" width="6.0" height="5.6" fill="#f00"/>
<rect x="590.30" y="435.00" width="6.0" height="5.6" fill="#f00"/>
<rect x="583.00" y="473.00" width="6.0" height="5.6" fill="#f00"/>
<rect x="597.60" y="471.20" width="6.0" height="5.6" fill="#f00"/>
<rect x="621.00" y="404.90" width="6.0" height="5.6" fill="#f00"/>
<rect x="621.00" y="411.70" width="6.0" height="5.6" fill="#f00"/>
<rect x="621.00" y="418.70" width="6.0" height="5.6" fill="#f00"/>
<rect x="621.00" y="444.90" width="6.0" height="5.6" fill="#f00"/>
<rect x="613.60" y="464.20" width="6.0" height="5.6" fill="#f00"/>
<rect x="628.20" y="459.00" width="6.0" height="5.6" fill="#f00"/>
<polyline points="466.50,325.50 466.50,317.50 531.50,317.50 531.50,325.50" fill="none" stroke="#444" stroke-width="1"/>
<text x="465.20" y="312.70" font-size="12.6" textLength="62.80" lengthAdjust="spacingAndGlyphs" fill="#111" stroke="#111" stroke-width="0.22">p = 0.0313</text>
<polyline points="531.50,313.50 531.50,305.50 591.50,305.50 591.50,313.50" fill="none" stroke="#444" stroke-width="1"/>
<text x="536.70" y="301.00" font-size="12.6" textLength="62.60" lengthAdjust="spacingAndGlyphs" fill="#111" stroke="#111" stroke-width="0.22">p = 0.0313</text>
<polyline points="496.50,353.50 496.50,344.50 552.50,344.50 552.50,353.50" fill="none" stroke="#444" stroke-width="1"/>
<text x="492.30" y="339.60" font-size="12.6" textLength="62.60" lengthAdjust="spacingAndGlyphs" fill="#111" stroke="#111" stroke-width="0.22">p = 0.0313</text>
<polyline points="573.50,353.50 573.50,345.50 626.50,345.50 626.50,353.50" fill="none" stroke="#444" stroke-width="1"/>
<text x="575.30" y="339.60" font-size="12.6" textLength="62.80" lengthAdjust="spacingAndGlyphs" fill="#111" stroke="#111" stroke-width="0.22">p = 0.0313</text>
<text x="395.00" y="513.60" font-size="12.2" text-anchor="middle" textLength="92.30" lengthAdjust="spacingAndGlyphs" fill="#111" stroke="#111" stroke-width="0.22">T Lymphocytes</text>
<text x="395.00" y="534.00" font-size="12.2" text-anchor="middle" textLength="115.00" lengthAdjust="spacingAndGlyphs" fill="#111" stroke="#111" stroke-width="0.22">Treg-depleted T Ly</text>
<text x="395.00" y="555.20" font-size="12.2" text-anchor="middle" textLength="110.00" lengthAdjust="spacingAndGlyphs" fill="#111" stroke="#111" stroke-width="0.22">α-CD2/CD3/CD28</text>
<text x="395.00" y="576.00" font-size="12.2" text-anchor="middle" textLength="75.20" lengthAdjust="spacingAndGlyphs" fill="#ff0000" stroke="#ff0000" stroke-width="0.22">Plasma cells</text>
<line x1="466.80" y1="512.40" x2="473.60" y2="512.40" stroke="#111" stroke-width="1.45"/>
<line x1="470.20" y1="509.30" x2="470.20" y2="515.50" stroke="#111" stroke-width="1.45"/>
<line x1="498.86" y1="511.60" x2="503.06" y2="511.60" stroke="#111" stroke-width="1.45"/>
<line x1="528.32" y1="512.40" x2="535.12" y2="512.40" stroke="#111" stroke-width="1.45"/>
<line x1="531.72" y1="509.30" x2="531.72" y2="515.50" stroke="#111" stroke-width="1.45"/>
<line x1="560.38" y1="511.60" x2="564.58" y2="511.60" stroke="#111" stroke-width="1.45"/>
<line x1="589.84" y1="512.40" x2="596.64" y2="512.40" stroke="#111" stroke-width="1.45"/>
<line x1="593.24" y1="509.30" x2="593.24" y2="515.50" stroke="#111" stroke-width="1.45"/>
<line x1="621.90" y1="511.60" x2="626.10" y2="511.60" stroke="#111" stroke-width="1.45"/>
<line x1="468.10" y1="529.60" x2="472.30" y2="529.60" stroke="#111" stroke-width="1.45"/>
<line x1="497.56" y1="530.60" x2="504.36" y2="530.60" stroke="#111" stroke-width="1.45"/>
<line x1="500.96" y1="527.50" x2="500.96" y2="533.70" stroke="#111" stroke-width="1.45"/>
<line x1="529.62" y1="529.60" x2="533.82" y2="529.60" stroke="#111" stroke-width="1.45"/>
<line x1="559.08" y1="530.60" x2="565.88" y2="530.60" stroke="#111" stroke-width="1.45"/>
<line x1="562.48" y1="527.50" x2="562.48" y2="533.70" stroke="#111" stroke-width="1.45"/>
<line x1="591.14" y1="529.60" x2="595.34" y2="529.60" stroke="#111" stroke-width="1.45"/>
<line x1="620.60" y1="530.60" x2="627.40" y2="530.60" stroke="#111" stroke-width="1.45"/>
<line x1="624.00" y1="527.50" x2="624.00" y2="533.70" stroke="#111" stroke-width="1.45"/>
<line x1="468.10" y1="550.60" x2="472.30" y2="550.60" stroke="#111" stroke-width="1.45"/>
<line x1="498.86" y1="550.60" x2="503.06" y2="550.60" stroke="#111" stroke-width="1.45"/>
<line x1="528.32" y1="551.50" x2="535.12" y2="551.50" stroke="#111" stroke-width="1.45"/>
<line x1="531.72" y1="548.40" x2="531.72" y2="554.60" stroke="#111" stroke-width="1.45"/>
<line x1="559.08" y1="551.50" x2="565.88" y2="551.50" stroke="#111" stroke-width="1.45"/>
<line x1="562.48" y1="548.40" x2="562.48" y2="554.60" stroke="#111" stroke-width="1.45"/>
<line x1="589.84" y1="551.50" x2="596.64" y2="551.50" stroke="#111" stroke-width="1.45"/>
<line x1="593.24" y1="548.40" x2="593.24" y2="554.60" stroke="#111" stroke-width="1.45"/>
<line x1="620.60" y1="551.50" x2="627.40" y2="551.50" stroke="#111" stroke-width="1.45"/>
<line x1="624.00" y1="548.40" x2="624.00" y2="554.60" stroke="#111" stroke-width="1.45"/>
<line x1="468.10" y1="571.00" x2="472.30" y2="571.00" stroke="#ff0000" stroke-width="1.45"/>
<line x1="498.86" y1="571.00" x2="503.06" y2="571.00" stroke="#ff0000" stroke-width="1.45"/>
<line x1="529.62" y1="571.00" x2="533.82" y2="571.00" stroke="#ff0000" stroke-width="1.45"/>
<line x1="560.38" y1="571.00" x2="564.58" y2="571.00" stroke="#ff0000" stroke-width="1.45"/>
<line x1="589.84" y1="571.80" x2="596.64" y2="571.80" stroke="#ff0000" stroke-width="1.45"/>
<line x1="593.24" y1="568.70" x2="593.24" y2="574.90" stroke="#ff0000" stroke-width="1.45"/>
<line x1="620.60" y1="571.80" x2="627.40" y2="571.80" stroke="#ff0000" stroke-width="1.45"/>
<line x1="624.00" y1="568.70" x2="624.00" y2="574.90" stroke="#ff0000" stroke-width="1.45"/>
<text x="407.00" y="393.00" font-size="12.0" text-anchor="middle" textLength="143.50" lengthAdjust="spacingAndGlyphs" transform="rotate(-90 407.00 393.00)" fill="#111" stroke="#111" stroke-width="0.22">% proliferating CD3+ T cells</text>
<text x="54.20" y="610.30" font-size="25" textLength="15.00" lengthAdjust="spacingAndGlyphs" fill="#111" stroke="#111" stroke-width="0.35">e</text>
<line x1="109.50" y1="626.55" x2="109.50" y2="803.30" stroke="#555" stroke-width="1"/>
<line x1="101.20" y1="803.50" x2="109.50" y2="803.50" stroke="#555" stroke-width="1"/>
<text x="99.00" y="806.10" font-size="12.4" text-anchor="end" textLength="7.60" lengthAdjust="spacingAndGlyphs" fill="#111" stroke="#111" stroke-width="0.22">0</text>
<line x1="101.20" y1="767.50" x2="109.50" y2="767.50" stroke="#555" stroke-width="1"/>
<text x="99.00" y="770.75" font-size="12.4" text-anchor="end" textLength="15.80" lengthAdjust="spacingAndGlyphs" fill="#111" stroke="#111" stroke-width="0.22">10</text>
<line x1="101.20" y1="732.50" x2="109.50" y2="732.50" stroke="#555" stroke-width="1"/>
<text x="99.00" y="735.40" font-size="12.4" text-anchor="end" textLength="15.80" lengthAdjust="spacingAndGlyphs" fill="#111" stroke="#111" stroke-width="0.22">20</text>
<line x1="101.20" y1="697.50" x2="109.50" y2="697.50" stroke="#555" stroke-width="1"/>
<text x="99.00" y="700.05" font-size="12.4" text-anchor="end" textLength="15.80" lengthAdjust="spacingAndGlyphs" fill="#111" stroke="#111" stroke-width="0.22">30</text>
<line x1="101.20" y1="661.50" x2="109.50" y2="661.50" stroke="#555" stroke-width="1"/>
<text x="99.00" y="664.70" font-size="12.4" text-anchor="end" textLength="15.80" lengthAdjust="spacingAndGlyphs" fill="#111" stroke="#111" stroke-width="0.22">40</text>
<line x1="101.20" y1="626.50" x2="109.50" y2="626.50" stroke="#555" stroke-width="1"/>
<text x="99.00" y="629.35" font-size="12.4" text-anchor="end" textLength="15.80" lengthAdjust="spacingAndGlyphs" fill="#111" stroke="#111" stroke-width="0.22">50</text>
<line x1="101.20" y1="803.50" x2="319.70" y2="803.50" stroke="#333" stroke-width="1"/>
<line x1="131.50" y1="803.30" x2="131.50" y2="811.10" stroke="#333" stroke-width="1"/>
<line x1="164.50" y1="803.30" x2="164.50" y2="811.10" stroke="#333" stroke-width="1"/>
<line x1="197.50" y1="803.30" x2="197.50" y2="811.10" stroke="#333" stroke-width="1"/>
<line x1="230.50" y1="803.30" x2="230.50" y2="811.10" stroke="#333" stroke-width="1"/>
<line x1="263.50" y1="803.30" x2="263.50" y2="811.10" stroke="#333" stroke-width="1"/>
<line x1="296.50" y1="803.30" x2="296.50" y2="811.10" stroke="#333" stroke-width="1"/>
<ellipse cx="123.35" cy="803.30" rx="3.0" ry="2.5" fill="none" stroke="#333" stroke-width="0.9"/>
<ellipse cx="126.45" cy="803.30" rx="3.0" ry="2.5" fill="none" stroke="#333" stroke-width="0.9"/>
<ellipse cx="129.55" cy="803.30" rx="3.0" ry="2.5" fill="none" stroke="#333" stroke-width="0.9"/>
<ellipse cx="132.65" cy="803.30" rx="3.0" ry="2.5" fill="none" stroke="#333" stroke-width="0.9"/>
<ellipse cx="135.75" cy="803.30" rx="3.0" ry="2.5" fill="none" stroke="#333" stroke-width="0.9"/>
<ellipse cx="138.85" cy="803.30" rx="3.0" ry="2.5" fill="none" stroke="#333" stroke-width="0.9"/>
<ellipse cx="156.42" cy="803.30" rx="3.0" ry="2.5" fill="none" stroke="#333" stroke-width="0.9"/>
<ellipse cx="159.52" cy="803.30" rx="3.0" ry="2.5" fill="none" stroke="#333" stroke-width="0.9"/>
<ellipse cx="162.62" cy="803.30" rx="3.0" ry="2.5" fill="none" stroke="#333" stroke-width="0.9"/>
<ellipse cx="165.72" cy="803.30" rx="3.0" ry="2.5" fill="none" stroke="#333" stroke-width="0.9"/>
<ellipse cx="168.82" cy="803.30" rx="3.0" ry="2.5" fill="none" stroke="#333" stroke-width="0.9"/>
<ellipse cx="171.92" cy="803.30" rx="3.0" ry="2.5" fill="none" stroke="#333" stroke-width="0.9"/>
<polyline points="188.50,803.50 188.50,699.50 206.50,699.50 206.50,803.50" fill="none" stroke="#6a6a6a" stroke-width="1"/>
<line x1="197.50" y1="668.80" x2="197.50" y2="727.30" stroke="#333" stroke-width="1"/>
<line x1="192.60" y1="668.50" x2="202.40" y2="668.50" stroke="#333" stroke-width="1"/>
<line x1="192.60" y1="727.50" x2="202.40" y2="727.50" stroke="#333" stroke-width="1"/>
<polyline points="220.50,803.50 220.50,681.50 240.50,681.50 240.50,803.50" fill="none" stroke="#6a6a6a" stroke-width="1"/>
<line x1="230.50" y1="657.30" x2="230.50" y2="702.40" stroke="#333" stroke-width="1"/>
<line x1="225.60" y1="657.50" x2="235.30" y2="657.50" stroke="#333" stroke-width="1"/>
<line x1="225.60" y1="702.50" x2="235.30" y2="702.50" stroke="#333" stroke-width="1"/>
<polyline points="254.50,803.50 254.50,746.50 272.50,746.50 272.50,803.50" fill="none" stroke="#ff8080" stroke-width="1"/>
<line x1="263.50" y1="715.70" x2="263.50" y2="774.50" stroke="#ff2a2a" stroke-width="1"/>
<line x1="258.65" y1="715.50" x2="268.25" y2="715.50" stroke="#ff6a6a" stroke-width="1"/>
<line x1="258.65" y1="774.50" x2="268.25" y2="774.50" stroke="#ff6a6a" stroke-width="1"/>
<polyline points="286.50,803.50 286.50,745.50 305.50,745.50 305.50,803.50" fill="none" stroke="#ff8080" stroke-width="1"/>
<line x1="296.50" y1="723.10" x2="296.50" y2="764.50" stroke="#ff2a2a" stroke-width="1"/>
<line x1="291.55" y1="723.50" x2="301.15" y2="723.50" stroke="#ff6a6a" stroke-width="1"/>
<line x1="291.55" y1="764.50" x2="301.15" y2="764.50" stroke="#ff6a6a" stroke-width="1"/>
<ellipse cx="197.30" cy="668.80" rx="3.0" ry="2.55" fill="none" stroke="#1a1a1a" stroke-width="1.05"/>
<ellipse cx="189.40" cy="681.50" rx="3.0" ry="2.55" fill="none" stroke="#1a1a1a" stroke-width="1.05"/>
<ellipse cx="189.40" cy="688.00" rx="3.0" ry="2.55" fill="none" stroke="#1a1a1a" stroke-width="1.05"/>
<ellipse cx="205.70" cy="685.40" rx="3.0" ry="2.55" fill="none" stroke="#1a1a1a" stroke-width="1.05"/>
<ellipse cx="197.30" cy="715.70" rx="3.0" ry="2.55" fill="none" stroke="#1a1a1a" stroke-width="1.05"/>
<ellipse cx="197.30" cy="748.80" rx="3.0" ry="2.55" fill="none" stroke="#1a1a1a" stroke-width="1.05"/>
<ellipse cx="230.10" cy="646.00" rx="3.0" ry="2.55" fill="none" stroke="#1a1a1a" stroke-width="1.05"/>
<ellipse cx="230.10" cy="663.10" rx="3.0" ry="2.55" fill="none" stroke="#1a1a1a" stroke-width="1.05"/>
<ellipse cx="230.10" cy="678.30" rx="3.0" ry="2.55" fill="none" stroke="#1a1a1a" stroke-width="1.05"/>
<ellipse cx="230.10" cy="688.80" rx="3.0" ry="2.55" fill="none" stroke="#1a1a1a" stroke-width="1.05"/>
<ellipse cx="230.10" cy="697.20" rx="3.0" ry="2.55" fill="none" stroke="#1a1a1a" stroke-width="1.05"/>
<ellipse cx="230.10" cy="706.40" rx="3.0" ry="2.55" fill="none" stroke="#1a1a1a" stroke-width="1.05"/>
<rect x="259.80" y="712.10" width="6.6" height="5.8" fill="#f00"/>
<rect x="252.10" y="723.10" width="6.6" height="5.8" fill="#f00"/>
<rect x="267.90" y="725.00" width="6.6" height="5.8" fill="#f00"/>
<rect x="259.80" y="737.50" width="6.6" height="5.8" fill="#f00"/>
<rect x="252.10" y="778.90" width="6.6" height="5.8" fill="#f00"/>
<rect x="267.90" y="778.00" width="6.6" height="5.8" fill="#f00"/>
<rect x="285.50" y="721.10" width="6.6" height="5.8" fill="#f00"/>
<rect x="300.90" y="718.60" width="6.6" height="5.8" fill="#f00"/>
<rect x="293.20" y="732.70" width="6.6" height="5.8" fill="#f00"/>
<rect x="293.20" y="742.30" width="6.6" height="5.8" fill="#f00"/>
<rect x="293.20" y="762.60" width="6.6" height="5.8" fill="#f00"/>
<rect x="293.20" y="767.40" width="6.6" height="5.8" fill="#f00"/>
<polyline points="126.50,641.50 126.50,633.50 196.50,633.50 196.50,641.50" fill="none" stroke="#444" stroke-width="1"/>
<text x="125.90" y="629.20" font-size="12.6" textLength="64.50" lengthAdjust="spacingAndGlyphs" fill="#111" stroke="#111" stroke-width="0.22">p = 0.0313</text>
<polyline points="197.50,630.50 197.50,622.50 261.50,622.50 261.50,630.50" fill="none" stroke="#444" stroke-width="1"/>
<text x="197.30" y="617.90" font-size="12.6" textLength="64.60" lengthAdjust="spacingAndGlyphs" fill="#111" stroke="#111" stroke-width="0.22">p = 0.0313</text>
<polyline points="159.50,670.50 159.50,661.50 219.50,661.50 219.50,670.50" fill="none" stroke="#444" stroke-width="1"/>
<text x="155.70" y="656.50" font-size="12.6" textLength="64.10" lengthAdjust="spacingAndGlyphs" fill="#111" stroke="#111" stroke-width="0.22">p = 0.0313</text>
<polyline points="242.50,670.50 242.50,662.50 299.50,662.50 299.50,670.50" fill="none" stroke="#444" stroke-width="1"/>
<text x="244.60" y="657.00" font-size="12.6" textLength="64.10" lengthAdjust="spacingAndGlyphs" fill="#111" stroke="#111" stroke-width="0.22">p = 0.0313</text>
<text x="58.00" y="828.80" font-size="12.2" text-anchor="middle" textLength="92.30" lengthAdjust="spacingAndGlyphs" fill="#111" stroke="#111" stroke-width="0.22">T Lymphocytes</text>
<text x="58.00" y="849.40" font-size="12.2" text-anchor="middle" textLength="115.00" lengthAdjust="spacingAndGlyphs" fill="#111" stroke="#111" stroke-width="0.22">Treg-depleted T Ly</text>
<text x="58.00" y="870.70" font-size="12.2" text-anchor="middle" textLength="110.00" lengthAdjust="spacingAndGlyphs" fill="#111" stroke="#111" stroke-width="0.22">α-CD2/CD3/CD28</text>
<text x="58.00" y="891.20" font-size="12.2" text-anchor="middle" textLength="75.20" lengthAdjust="spacingAndGlyphs" fill="#ff0000" stroke="#ff0000" stroke-width="0.22">Plasma cells</text>
<line x1="129.00" y1="828.30" x2="135.80" y2="828.30" stroke="#111" stroke-width="1.45"/>
<line x1="132.40" y1="825.20" x2="132.40" y2="831.40" stroke="#111" stroke-width="1.45"/>
<line x1="163.37" y1="827.50" x2="167.57" y2="827.50" stroke="#111" stroke-width="1.45"/>
<line x1="195.14" y1="828.30" x2="201.94" y2="828.30" stroke="#111" stroke-width="1.45"/>
<line x1="198.54" y1="825.20" x2="198.54" y2="831.40" stroke="#111" stroke-width="1.45"/>
<line x1="229.51" y1="827.50" x2="233.71" y2="827.50" stroke="#111" stroke-width="1.45"/>
<line x1="261.28" y1="828.30" x2="268.08" y2="828.30" stroke="#111" stroke-width="1.45"/>
<line x1="264.68" y1="825.20" x2="264.68" y2="831.40" stroke="#111" stroke-width="1.45"/>
<line x1="295.65" y1="827.50" x2="299.85" y2="827.50" stroke="#111" stroke-width="1.45"/>
<line x1="130.30" y1="845.50" x2="134.50" y2="845.50" stroke="#111" stroke-width="1.45"/>
<line x1="162.07" y1="846.40" x2="168.87" y2="846.40" stroke="#111" stroke-width="1.45"/>
<line x1="165.47" y1="843.30" x2="165.47" y2="849.50" stroke="#111" stroke-width="1.45"/>
<line x1="196.44" y1="845.50" x2="200.64" y2="845.50" stroke="#111" stroke-width="1.45"/>
<line x1="228.21" y1="846.40" x2="235.01" y2="846.40" stroke="#111" stroke-width="1.45"/>
<line x1="231.61" y1="843.30" x2="231.61" y2="849.50" stroke="#111" stroke-width="1.45"/>
<line x1="262.58" y1="845.50" x2="266.78" y2="845.50" stroke="#111" stroke-width="1.45"/>
<line x1="294.35" y1="846.40" x2="301.15" y2="846.40" stroke="#111" stroke-width="1.45"/>
<line x1="297.75" y1="843.30" x2="297.75" y2="849.50" stroke="#111" stroke-width="1.45"/>
<line x1="130.30" y1="866.50" x2="134.50" y2="866.50" stroke="#111" stroke-width="1.45"/>
<line x1="163.37" y1="866.50" x2="167.57" y2="866.50" stroke="#111" stroke-width="1.45"/>
<line x1="195.14" y1="867.30" x2="201.94" y2="867.30" stroke="#111" stroke-width="1.45"/>
<line x1="198.54" y1="864.20" x2="198.54" y2="870.40" stroke="#111" stroke-width="1.45"/>
<line x1="228.21" y1="867.30" x2="235.01" y2="867.30" stroke="#111" stroke-width="1.45"/>
<line x1="231.61" y1="864.20" x2="231.61" y2="870.40" stroke="#111" stroke-width="1.45"/>
<line x1="261.28" y1="867.30" x2="268.08" y2="867.30" stroke="#111" stroke-width="1.45"/>
<line x1="264.68" y1="864.20" x2="264.68" y2="870.40" stroke="#111" stroke-width="1.45"/>
<line x1="294.35" y1="867.30" x2="301.15" y2="867.30" stroke="#111" stroke-width="1.45"/>
<line x1="297.75" y1="864.20" x2="297.75" y2="870.40" stroke="#111" stroke-width="1.45"/>
<line x1="130.30" y1="887.30" x2="134.50" y2="887.30" stroke="#ff0000" stroke-width="1.45"/>
<line x1="163.37" y1="887.30" x2="167.57" y2="887.30" stroke="#ff0000" stroke-width="1.45"/>
<line x1="196.44" y1="887.30" x2="200.64" y2="887.30" stroke="#ff0000" stroke-width="1.45"/>
<line x1="229.51" y1="887.30" x2="233.71" y2="887.30" stroke="#ff0000" stroke-width="1.45"/>
<line x1="261.28" y1="888.20" x2="268.08" y2="888.20" stroke="#ff0000" stroke-width="1.45"/>
<line x1="264.68" y1="885.10" x2="264.68" y2="891.30" stroke="#ff0000" stroke-width="1.45"/>
<line x1="294.35" y1="888.20" x2="301.15" y2="888.20" stroke="#ff0000" stroke-width="1.45"/>
<line x1="297.75" y1="885.10" x2="297.75" y2="891.30" stroke="#ff0000" stroke-width="1.45"/>
<text x="64.40" y="706.00" font-size="12.0" text-anchor="middle" textLength="139.00" lengthAdjust="spacingAndGlyphs" transform="rotate(-90 64.40 706.00)" fill="#111" stroke="#111" stroke-width="0.22">% proliferating CD4+ T cells</text>
<text x="400.00" y="612.50" font-size="23.2" textLength="8.60" lengthAdjust="spacingAndGlyphs" fill="#111" stroke="#111" stroke-width="0.1">f</text>
<line x1="456.50" y1="625.80" x2="456.50" y2="804.00" stroke="#555" stroke-width="1"/>
<line x1="448.30" y1="804.50" x2="456.60" y2="804.50" stroke="#555" stroke-width="1"/>
<text x="445.20" y="806.80" font-size="12.4" text-anchor="end" textLength="7.60" lengthAdjust="spacingAndGlyphs" fill="#111" stroke="#111" stroke-width="0.22">0</text>
<line x1="448.30" y1="744.50" x2="456.60" y2="744.50" stroke="#555" stroke-width="1"/>
<text x="445.20" y="747.40" font-size="12.4" text-anchor="end" textLength="15.80" lengthAdjust="spacingAndGlyphs" fill="#111" stroke="#111" stroke-width="0.22">20</text>
<line x1="448.30" y1="685.50" x2="456.60" y2="685.50" stroke="#555" stroke-width="1"/>
<text x="445.20" y="688.00" font-size="12.4" text-anchor="end" textLength="15.80" lengthAdjust="spacingAndGlyphs" fill="#111" stroke="#111" stroke-width="0.22">40</text>
<line x1="448.30" y1="625.50" x2="456.60" y2="625.50" stroke="#555" stroke-width="1"/>
<text x="445.20" y="628.60" font-size="12.4" text-anchor="end" textLength="15.80" lengthAdjust="spacingAndGlyphs" fill="#111" stroke="#111" stroke-width="0.22">60</text>
<line x1="448.30" y1="804.50" x2="667.00" y2="804.50" stroke="#333" stroke-width="1"/>
<line x1="478.50" y1="804.00" x2="478.50" y2="811.80" stroke="#333" stroke-width="1"/>
<line x1="511.50" y1="804.00" x2="511.50" y2="811.80" stroke="#333" stroke-width="1"/>
<line x1="544.50" y1="804.00" x2="544.50" y2="811.80" stroke="#333" stroke-width="1"/>
<line x1="577.50" y1="804.00" x2="577.50" y2="811.80" stroke="#333" stroke-width="1"/>
<line x1="610.50" y1="804.00" x2="610.50" y2="811.80" stroke="#333" stroke-width="1"/>
<line x1="643.50" y1="804.00" x2="643.50" y2="811.80" stroke="#333" stroke-width="1"/>
<ellipse cx="470.55" cy="804.00" rx="3.0" ry="2.5" fill="none" stroke="#333" stroke-width="0.9"/>
<ellipse cx="473.65" cy="804.00" rx="3.0" ry="2.5" fill="none" stroke="#333" stroke-width="0.9"/>
<ellipse cx="476.75" cy="804.00" rx="3.0" ry="2.5" fill="none" stroke="#333" stroke-width="0.9"/>
<ellipse cx="479.85" cy="804.00" rx="3.0" ry="2.5" fill="none" stroke="#333" stroke-width="0.9"/>
<ellipse cx="482.95" cy="804.00" rx="3.0" ry="2.5" fill="none" stroke="#333" stroke-width="0.9"/>
<ellipse cx="486.05" cy="804.00" rx="3.0" ry="2.5" fill="none" stroke="#333" stroke-width="0.9"/>
<ellipse cx="503.61" cy="804.00" rx="3.0" ry="2.5" fill="none" stroke="#333" stroke-width="0.9"/>
<ellipse cx="506.71" cy="804.00" rx="3.0" ry="2.5" fill="none" stroke="#333" stroke-width="0.9"/>
<ellipse cx="509.81" cy="804.00" rx="3.0" ry="2.5" fill="none" stroke="#333" stroke-width="0.9"/>
<ellipse cx="512.91" cy="804.00" rx="3.0" ry="2.5" fill="none" stroke="#333" stroke-width="0.9"/>
<ellipse cx="516.01" cy="804.00" rx="3.0" ry="2.5" fill="none" stroke="#333" stroke-width="0.9"/>
<ellipse cx="519.11" cy="804.00" rx="3.0" ry="2.5" fill="none" stroke="#333" stroke-width="0.9"/>
<polyline points="534.50,804.50 534.50,702.50 555.50,702.50 555.50,804.50" fill="none" stroke="#6a6a6a" stroke-width="1"/>
<line x1="544.50" y1="673.60" x2="544.50" y2="729.50" stroke="#333" stroke-width="1"/>
<line x1="539.30" y1="673.50" x2="550.10" y2="673.50" stroke="#333" stroke-width="1"/>
<line x1="539.30" y1="729.50" x2="550.10" y2="729.50" stroke="#333" stroke-width="1"/>
<polyline points="567.50,804.50 567.50,686.50 588.50,686.50 588.50,804.50" fill="none" stroke="#6a6a6a" stroke-width="1"/>
<line x1="577.50" y1="662.50" x2="577.50" y2="709.90" stroke="#333" stroke-width="1"/>
<line x1="572.35" y1="662.50" x2="582.85" y2="662.50" stroke="#333" stroke-width="1"/>
<line x1="572.35" y1="709.50" x2="582.85" y2="709.50" stroke="#333" stroke-width="1"/>
<polyline points="600.50,804.50 600.50,752.50 620.50,752.50 620.50,804.50" fill="none" stroke="#ff8080" stroke-width="1"/>
<line x1="610.50" y1="709.90" x2="610.50" y2="793.70" stroke="#ff2a2a" stroke-width="1"/>
<line x1="605.15" y1="709.50" x2="615.65" y2="709.50" stroke="#ff6a6a" stroke-width="1"/>
<line x1="605.15" y1="793.50" x2="615.65" y2="793.50" stroke="#ff6a6a" stroke-width="1"/>
<polyline points="632.50,804.50 632.50,749.50 653.50,749.50 653.50,804.50" fill="none" stroke="#ff8080" stroke-width="1"/>
<line x1="643.50" y1="707.70" x2="643.50" y2="790.50" stroke="#ff2a2a" stroke-width="1"/>
<line x1="638.20" y1="707.50" x2="648.70" y2="707.50" stroke="#ff6a6a" stroke-width="1"/>
<line x1="638.20" y1="790.50" x2="648.70" y2="790.50" stroke="#ff6a6a" stroke-width="1"/>
<ellipse cx="544.40" cy="670.40" rx="3.0" ry="2.55" fill="none" stroke="#1a1a1a" stroke-width="1.05"/>
<ellipse cx="536.50" cy="684.90" rx="3.0" ry="2.55" fill="none" stroke="#1a1a1a" stroke-width="1.05"/>
<ellipse cx="552.30" cy="688.00" rx="3.0" ry="2.55" fill="none" stroke="#1a1a1a" stroke-width="1.05"/>
<ellipse cx="544.40" cy="702.50" rx="3.0" ry="2.55" fill="none" stroke="#1a1a1a" stroke-width="1.05"/>
<ellipse cx="544.40" cy="715.70" rx="3.0" ry="2.55" fill="none" stroke="#1a1a1a" stroke-width="1.05"/>
<ellipse cx="544.40" cy="750.00" rx="3.0" ry="2.55" fill="none" stroke="#1a1a1a" stroke-width="1.05"/>
<ellipse cx="577.50" cy="648.10" rx="3.0" ry="2.55" fill="none" stroke="#1a1a1a" stroke-width="1.05"/>
<ellipse cx="569.30" cy="672.30" rx="3.0" ry="2.55" fill="none" stroke="#1a1a1a" stroke-width="1.05"/>
<ellipse cx="577.50" cy="678.00" rx="3.0" ry="2.55" fill="none" stroke="#1a1a1a" stroke-width="1.05"/>
<ellipse cx="569.30" cy="706.40" rx="3.0" ry="2.55" fill="none" stroke="#1a1a1a" stroke-width="1.05"/>
<ellipse cx="577.50" cy="704.60" rx="3.0" ry="2.55" fill="none" stroke="#1a1a1a" stroke-width="1.05"/>
<ellipse cx="585.40" cy="706.40" rx="3.0" ry="2.55" fill="none" stroke="#1a1a1a" stroke-width="1.05"/>
<rect x="599.25" y="709.55" width="6.5" height="5.9" fill="#f00"/>
<rect x="615.35" y="708.55" width="6.5" height="5.9" fill="#f00"/>
<rect x="607.35" y="717.55" width="6.5" height="5.9" fill="#f00"/>
<rect x="607.35" y="768.25" width="6.5" height="5.9" fill="#f00"/>
<rect x="599.25" y="795.25" width="6.5" height="5.9" fill="#f00"/>
<rect x="615.35" y="794.65" width="6.5" height="5.9" fill="#f00"/>
<rect x="640.05" y="698.95" width="6.5" height="5.9" fill="#f00"/>
<rect x="640.05" y="707.95" width="6.5" height="5.9" fill="#f00"/>
<rect x="640.05" y="720.15" width="6.5" height="5.9" fill="#f00"/>
<rect x="632.35" y="778.55" width="6.5" height="5.9" fill="#f00"/>
<rect x="648.05" y="782.75" width="6.5" height="5.9" fill="#f00"/>
<rect x="640.05" y="789.85" width="6.5" height="5.9" fill="#f00"/>
<polyline points="471.50,643.50 471.50,636.50 542.50,636.50 542.50,643.50" fill="none" stroke="#444" stroke-width="1"/>
<text x="470.80" y="630.90" font-size="12.6" textLength="64.90" lengthAdjust="spacingAndGlyphs" fill="#111" stroke="#111" stroke-width="0.22">p = 0.0313</text>
<polyline points="542.50,632.50 542.50,624.50 606.50,624.50 606.50,632.50" fill="none" stroke="#444" stroke-width="1"/>
<text x="547.80" y="619.70" font-size="12.6" textLength="64.10" lengthAdjust="spacingAndGlyphs" fill="#111" stroke="#111" stroke-width="0.22">p = 0.0313</text>
<polyline points="505.50,670.50 505.50,660.50 566.50,660.50 566.50,670.50" fill="none" stroke="#444" stroke-width="1"/>
<text x="501.20" y="656.00" font-size="12.6" textLength="64.70" lengthAdjust="spacingAndGlyphs" fill="#111" stroke="#111" stroke-width="0.22">p = 0.0313</text>
<polyline points="587.50,685.50 587.50,676.50 644.50,676.50 644.50,685.50" fill="none" stroke="#444" stroke-width="1"/>
<text x="589.30" y="672.30" font-size="12.6" textLength="64.60" lengthAdjust="spacingAndGlyphs" fill="#111" stroke="#111" stroke-width="0.22">p = 0.0313</text>
<text x="404.00" y="828.80" font-size="12.2" text-anchor="middle" textLength="92.30" lengthAdjust="spacingAndGlyphs" fill="#111" stroke="#111" stroke-width="0.22">T Lymphocytes</text>
<text x="404.00" y="849.40" font-size="12.2" text-anchor="middle" textLength="115.00" lengthAdjust="spacingAndGlyphs" fill="#111" stroke="#111" stroke-width="0.22">Treg-depleted T Ly</text>
<text x="404.00" y="870.70" font-size="12.2" text-anchor="middle" textLength="110.00" lengthAdjust="spacingAndGlyphs" fill="#111" stroke="#111" stroke-width="0.22">α-CD2/CD3/CD28</text>
<text x="404.00" y="891.20" font-size="12.2" text-anchor="middle" textLength="75.20" lengthAdjust="spacingAndGlyphs" fill="#ff0000" stroke="#ff0000" stroke-width="0.22">Plasma cells</text>
<line x1="475.20" y1="828.50" x2="482.00" y2="828.50" stroke="#111" stroke-width="1.45"/>
<line x1="478.60" y1="825.40" x2="478.60" y2="831.60" stroke="#111" stroke-width="1.45"/>
<line x1="509.56" y1="827.30" x2="513.76" y2="827.30" stroke="#111" stroke-width="1.45"/>
<line x1="541.32" y1="828.50" x2="548.12" y2="828.50" stroke="#111" stroke-width="1.45"/>
<line x1="544.72" y1="825.40" x2="544.72" y2="831.60" stroke="#111" stroke-width="1.45"/>
<line x1="575.68" y1="827.30" x2="579.88" y2="827.30" stroke="#111" stroke-width="1.45"/>
<line x1="607.44" y1="828.50" x2="614.24" y2="828.50" stroke="#111" stroke-width="1.45"/>
<line x1="610.84" y1="825.40" x2="610.84" y2="831.60" stroke="#111" stroke-width="1.45"/>
<line x1="641.80" y1="827.30" x2="646.00" y2="827.30" stroke="#111" stroke-width="1.45"/>
<line x1="476.50" y1="845.30" x2="480.70" y2="845.30" stroke="#111" stroke-width="1.45"/>
<line x1="508.26" y1="846.60" x2="515.06" y2="846.60" stroke="#111" stroke-width="1.45"/>
<line x1="511.66" y1="843.50" x2="511.66" y2="849.70" stroke="#111" stroke-width="1.45"/>
<line x1="542.62" y1="845.30" x2="546.82" y2="845.30" stroke="#111" stroke-width="1.45"/>
<line x1="574.38" y1="846.60" x2="581.18" y2="846.60" stroke="#111" stroke-width="1.45"/>
<line x1="577.78" y1="843.50" x2="577.78" y2="849.70" stroke="#111" stroke-width="1.45"/>
<line x1="608.74" y1="845.30" x2="612.94" y2="845.30" stroke="#111" stroke-width="1.45"/>
<line x1="640.50" y1="846.60" x2="647.30" y2="846.60" stroke="#111" stroke-width="1.45"/>
<line x1="643.90" y1="843.50" x2="643.90" y2="849.70" stroke="#111" stroke-width="1.45"/>
<line x1="476.50" y1="866.40" x2="480.70" y2="866.40" stroke="#111" stroke-width="1.45"/>
<line x1="509.56" y1="866.40" x2="513.76" y2="866.40" stroke="#111" stroke-width="1.45"/>
<line x1="541.32" y1="867.30" x2="548.12" y2="867.30" stroke="#111" stroke-width="1.45"/>
<line x1="544.72" y1="864.20" x2="544.72" y2="870.40" stroke="#111" stroke-width="1.45"/>
<line x1="574.38" y1="867.30" x2="581.18" y2="867.30" stroke="#111" stroke-width="1.45"/>
<line x1="577.78" y1="864.20" x2="577.78" y2="870.40" stroke="#111" stroke-width="1.45"/>
<line x1="607.44" y1="867.30" x2="614.24" y2="867.30" stroke="#111" stroke-width="1.45"/>
<line x1="610.84" y1="864.20" x2="610.84" y2="870.40" stroke="#111" stroke-width="1.45"/>
<line x1="640.50" y1="867.30" x2="647.30" y2="867.30" stroke="#111" stroke-width="1.45"/>
<line x1="643.90" y1="864.20" x2="643.90" y2="870.40" stroke="#111" stroke-width="1.45"/>
<line x1="476.50" y1="887.40" x2="480.70" y2="887.40" stroke="#ff0000" stroke-width="1.45"/>
<line x1="509.56" y1="887.40" x2="513.76" y2="887.40" stroke="#ff0000" stroke-width="1.45"/>
<line x1="542.62" y1="887.40" x2="546.82" y2="887.40" stroke="#ff0000" stroke-width="1.45"/>
<line x1="575.68" y1="887.40" x2="579.88" y2="887.40" stroke="#ff0000" stroke-width="1.45"/>
<line x1="607.44" y1="888.20" x2="614.24" y2="888.20" stroke="#ff0000" stroke-width="1.45"/>
<line x1="610.84" y1="885.10" x2="610.84" y2="891.30" stroke="#ff0000" stroke-width="1.45"/>
<line x1="640.50" y1="888.20" x2="647.30" y2="888.20" stroke="#ff0000" stroke-width="1.45"/>
<line x1="643.90" y1="885.10" x2="643.90" y2="891.30" stroke="#ff0000" stroke-width="1.45"/>
<text x="408.30" y="702.50" font-size="12.0" text-anchor="middle" textLength="140.00" lengthAdjust="spacingAndGlyphs" transform="rotate(-90 408.30 702.50)" fill="#111" stroke="#111" stroke-width="0.22">% proliferating CD8+ T cells</text>
</svg>
</body></html>
